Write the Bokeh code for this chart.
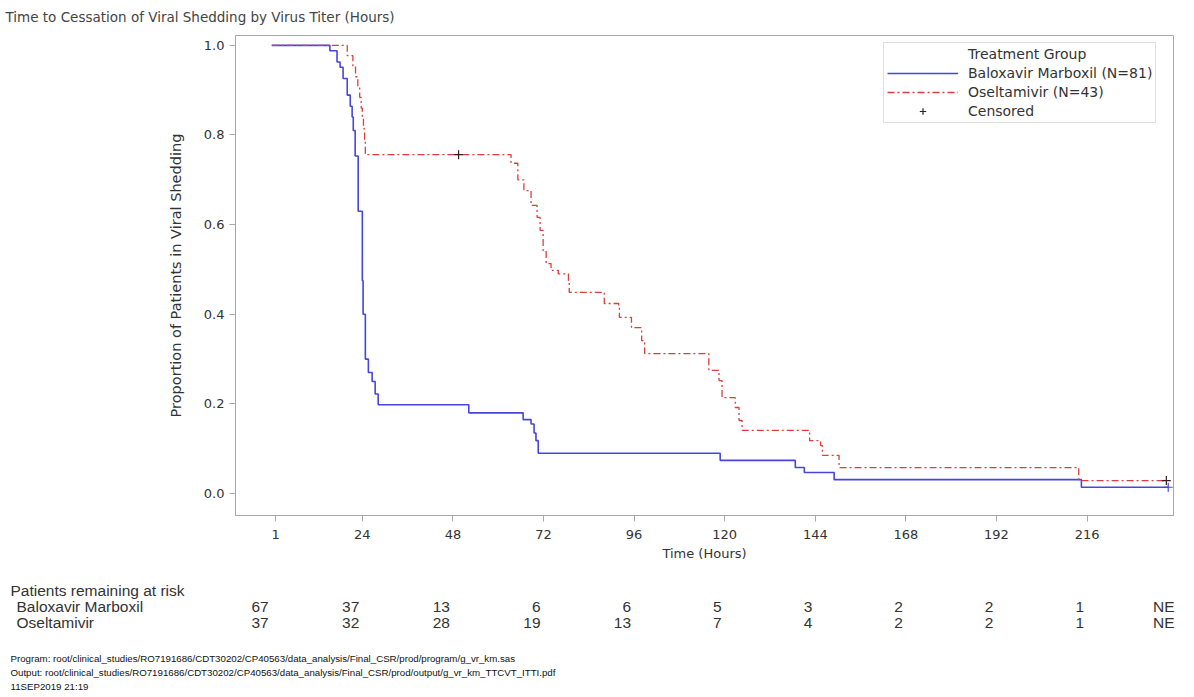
from bokeh.plotting import figure
from bokeh.layouts import column
from bokeh.models import Range1d, FixedTicker, Legend, LegendItem, NumeralTickFormatter
from bokeh.embed import file_html
from bokeh.resources import INLINE
from bokeh.core.properties import value

# ---------------- data ----------------
TITLE = "Time to Cessation of Viral Shedding by Virus Titer (Hours)"
X_LABEL = "Time (Hours)"
Y_LABEL = "Proportion of Patients in Viral Shedding"
x_ticks = [1, 24, 48, 72, 96, 120, 144, 168, 192, 216]
y_ticks = [0.0, 0.2, 0.4, 0.6, 0.8, 1.0]

balox_name = "Baloxavir Marboxil (N=81)"
balox_time = [0, 15.4, 17.3, 18.1, 18.9, 20.0, 20.8, 21.3, 21.6, 22.1, 22.9, 24.0, 24.2, 24.8,
              25.6, 26.6, 27.4, 28.2, 52.2, 66.6, 68.7, 69.5, 70.0, 70.6, 118.8, 138.7, 141.1,
              149.0, 214.5, 237.5]
balox_surv = [1.0, 0.988, 0.963, 0.951, 0.926, 0.889, 0.864, 0.840, 0.810, 0.753, 0.630, 0.475,
              0.400, 0.300, 0.270, 0.250, 0.222, 0.198, 0.180, 0.165, 0.155, 0.135, 0.118, 0.090,
              0.074, 0.058, 0.047, 0.031, 0.014, 0.014]
balox_cens_time = [237.5]
balox_cens_surv = [0.014]

osel_name = "Oseltamivir (N=43)"
osel_time = [0, 20.0, 21.5, 22.2, 22.8, 23.3, 23.7, 24.0, 24.3, 24.6, 24.8, 63.4, 65.2, 66.8,
             68.7, 70.3, 71.1, 71.9, 72.7, 74.0, 75.9, 78.6, 78.8, 88.1, 91.9, 92.1, 95.3, 98.0,
             98.8, 115.8, 118.5, 119.3, 122.8, 123.8, 124.6, 142.5, 145.4, 145.9, 150.3, 213.8,
             237.0]
osel_surv = [1.0, 0.977, 0.953, 0.930, 0.907, 0.884, 0.860, 0.837, 0.814, 0.790, 0.756, 0.737,
             0.700, 0.676, 0.643, 0.616, 0.587, 0.542, 0.513, 0.498, 0.490, 0.475, 0.449, 0.424,
             0.415, 0.393, 0.370, 0.341, 0.312, 0.275, 0.252, 0.214, 0.192, 0.163, 0.141, 0.118,
             0.107, 0.085, 0.058, 0.029, 0.029]
osel_cens_time = [49.5, 237.0]
osel_cens_surv = [0.756, 0.029]

risk_header = "Patients remaining at risk"
risk_groups = ["Baloxavir Marboxil", "Oseltamivir"]
risk_times = [0, 24, 48, 72, 96, 120, 144, 168, 192, 216, 240]
balox_risk = ["67", "37", "13", "6", "6", "5", "3", "2", "2", "1", "NE"]
osel_risk = ["37", "32", "28", "19", "13", "7", "4", "2", "2", "1", "NE"]

footer_lines = [
    "Program: root/clinical_studies/RO7191686/CDT30202/CP40563/data_analysis/Final_CSR/prod/program/g_vr_km.sas",
    "Output: root/clinical_studies/RO7191686/CDT30202/CP40563/data_analysis/Final_CSR/prod/output/g_vr_km_TTCVT_ITTI.pdf",
    "11SEP2019 21:19",
]

# ---------------- style ----------------
W = 1194
FONT = "Liberation Sans"
LEG_FONT = "DejaVu Sans"
BLUE = "#4646dc"
RED = "#e03c3c"
GRAY = "#a8a8a8"
TXT = "#333333"
X0, X1 = -9.6, 238.9
FRAME_L, FRAME_R = 235, 21


def blank(height, xr, yr):
    f = figure(width=W, height=height, x_range=xr, y_range=yr, min_border=0,
               x_axis_location=None, y_axis_location=None, frame_align=False,
               output_backend="svg", toolbar_location=None)
    f.grid.visible = False
    f.outline_line_color = None
    return f


# ---------------- title ----------------
tf = blank(34, Range1d(0, W), Range1d(34, 0))
tf.text(x=[5], y=[16], text=[TITLE], text_baseline="middle", text_font=value(LEG_FONT),
        text_font_size="13.5px", text_color="#444444")

# ---------------- main plot ----------------
p = figure(width=W, height=531, x_range=Range1d(X0, X1), y_range=Range1d(-0.049, 1.022),
           min_border_left=FRAME_L, min_border_right=FRAME_R, min_border_top=1,
           min_border_bottom=50, frame_align=False, output_backend="svg", toolbar_location=None)
p.grid.visible = False
p.outline_line_color = GRAY
p.xaxis.ticker = FixedTicker(ticks=x_ticks)
p.yaxis.ticker = FixedTicker(ticks=y_ticks)
p.yaxis.formatter = NumeralTickFormatter(format="0.0")
p.xaxis.axis_label = X_LABEL
p.yaxis.axis_label = Y_LABEL
for ax in (p.xaxis, p.yaxis):
    ax.axis_line_color = GRAY
    ax.major_tick_line_color = GRAY
    ax.minor_tick_line_color = None
    ax.major_tick_in = 0
    ax.major_tick_out = 6
    ax.major_label_text_font = LEG_FONT
    ax.major_label_text_font_size = "13px"
    ax.major_label_text_color = TXT
    ax.axis_label_text_font = LEG_FONT
    ax.axis_label_text_font_style = "normal"
    ax.axis_label_text_color = TXT
p.xaxis.axis_label_text_font_size = "13px"
p.yaxis.axis_label_text_font_size = "14.5px"
p.xaxis.major_label_standoff = 8
p.xaxis.axis_label_standoff = 4
p.yaxis.major_label_standoff = 5
p.yaxis.axis_label_standoff = 17

bl = p.step(balox_time, balox_surv, mode="after", line_color=BLUE, line_width=1.6)
ol = p.step(osel_time, osel_surv, mode="after", line_color=RED, line_width=1.3,
            line_dash="7 3 2 3")
p.scatter(balox_cens_time, balox_cens_surv, marker="cross", size=9, line_color=BLUE, line_width=1.2)
cens_r = p.scatter(osel_cens_time, osel_cens_surv, marker="cross", size=9, line_color="#3a1a1a",
                   line_width=1.2)

title_r = p.line(x=[], y=[], line_alpha=0)

legend = Legend(items=[
    LegendItem(label="Treatment Group", renderers=[title_r]),
    LegendItem(label=balox_name, renderers=[bl]),
    LegendItem(label=osel_name, renderers=[ol]),
    LegendItem(label="Censored", renderers=[cens_r]),
], location=(648, 392), glyph_width=71, glyph_height=16, label_height=16,
    label_standoff=10, spacing=3, padding=3, margin=0,
    border_line_color="#c0c0c0", label_text_font=LEG_FONT, label_text_font_size="14px",
    label_text_color=TXT)
p.add_layout(legend)

# ---------------- at-risk table ----------------
ppx = (W - FRAME_L - FRAME_R) / (X1 - X0)
tx0 = X0 - FRAME_L / ppx
tx1 = X1 + FRAME_R / ppx
rf = blank(80, Range1d(tx0, tx1), Range1d(80, 0))
rf.text(x=[tx0 + 10 / ppx], y=[25], text=[risk_header], text_baseline="middle",
        text_font=value(FONT), text_font_size="15.5px", text_color=TXT)
rf.text(x=[tx0 + 16 / ppx] * 2, y=[41, 57], text=risk_groups, text_baseline="middle",
        text_font=value(FONT), text_font_size="15.5px", text_color=TXT)
rf.text(x=risk_times, y=[41] * len(risk_times), text=balox_risk, text_align="right",
        text_baseline="middle", x_offset=-3, text_font=value(FONT), text_font_size="15.5px",
        text_color=TXT)
rf.text(x=risk_times, y=[57] * len(risk_times), text=osel_risk, text_align="right",
        text_baseline="middle", x_offset=-3, text_font=value(FONT), text_font_size="15.5px",
        text_color=TXT)

# ---------------- footer ----------------
ff = blank(52, Range1d(0, W), Range1d(52, 0))
ff.text(x=[10] * 3, y=[13, 27, 41], text=footer_lines, text_baseline="middle",
        text_font=value(FONT), text_font_size="9.7px", text_color="#111111")

layout = column(tf, p, rf, ff, spacing=0)
open("out.html", "w").write(file_html(layout, INLINE))
